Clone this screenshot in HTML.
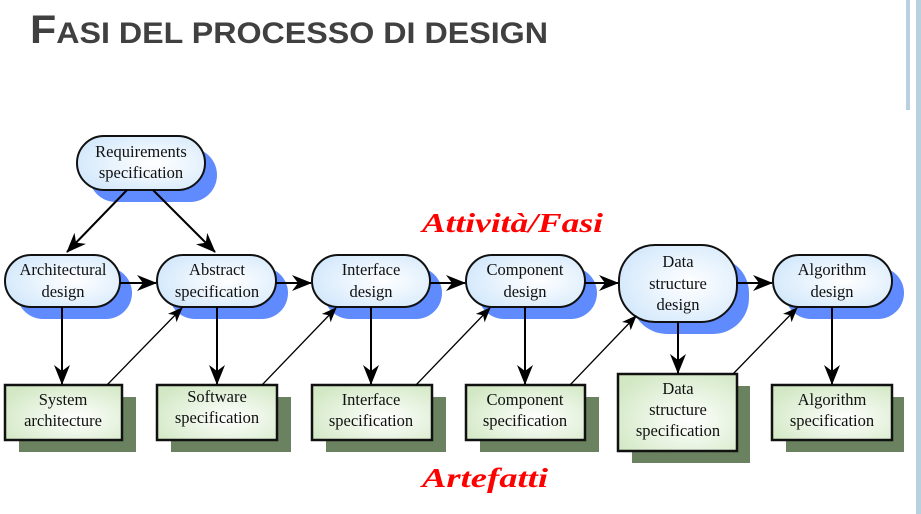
<!DOCTYPE html>
<html><head><meta charset="utf-8"><style>
html,body{margin:0;padding:0;background:#fff;}
svg{display:block;}
.t{font-family:"Liberation Serif",serif;font-size:16.5px;fill:#111;text-anchor:middle;}
</style></head><body>
<svg width="921" height="514" viewBox="0 0 921 514" xmlns="http://www.w3.org/2000/svg">
<defs>
<radialGradient id="eg" cx="0.6" cy="0.5" r="0.7"><stop offset="0" stop-color="#ffffff"/><stop offset="1" stop-color="#cfe6fb"/></radialGradient>
<radialGradient id="bg" cx="0.6" cy="0.6" r="0.7"><stop offset="0" stop-color="#ffffff"/><stop offset="1" stop-color="#d2e8c4"/></radialGradient>
<marker id="a" markerWidth="20" markerHeight="16" refX="19" refY="8" orient="auto" markerUnits="userSpaceOnUse" viewBox="0 0 20 16"><path d="M0,0 L20,8 L0,16 L6,8 Z" fill="#000"/></marker>
<marker id="b" markerWidth="15" markerHeight="12" refX="14" refY="6" orient="auto" markerUnits="userSpaceOnUse" viewBox="0 0 15 12"><path d="M0,0 L15,6 L0,12 L4,6 Z" fill="#000"/></marker>
</defs>
<rect x="906" y="0" width="4" height="110" fill="#b9d1df"/>
<rect x="916" y="0" width="5" height="514" fill="#b9d1df"/>
<text x="30" y="43" font-family="Liberation Sans,sans-serif" font-weight="bold" fill="#404040" textLength="518" lengthAdjust="spacingAndGlyphs"><tspan font-size="40">F</tspan><tspan font-size="30">ASI DEL PROCESSO DI DESIGN</tspan></text>
<text x="422" y="232" font-family="Liberation Serif,serif" font-style="italic" font-weight="bold" font-size="27" fill="#ff0000" textLength="181" lengthAdjust="spacingAndGlyphs">Attività/Fasi</text>
<text x="422" y="487" font-family="Liberation Serif,serif" font-style="italic" font-weight="bold" font-size="27" fill="#ff0000" textLength="126" lengthAdjust="spacingAndGlyphs">Artefatti</text>
<g>
<rect x="89" y="148" width="128" height="54" rx="27" fill="#5f8bff"/>
<rect x="77" y="136" width="128" height="54" rx="27" fill="url(#eg)" stroke="#111" stroke-width="2"/>
</g>
<g fill="#5f8bff">
<rect x="17" y="267" width="115" height="52" rx="26"/>
<rect x="169" y="267" width="119" height="52" rx="26"/>
<rect x="324" y="267" width="118" height="52" rx="26"/>
<rect x="478" y="267" width="119" height="52" rx="26"/>
<rect x="631" y="257" width="118" height="77" rx="36"/>
<rect x="785" y="267" width="119" height="52" rx="26"/>
</g>
<g fill="url(#eg)" stroke="#111" stroke-width="2">
<rect x="5" y="255" width="115" height="52" rx="26"/>
<rect x="157" y="255" width="119" height="52" rx="26"/>
<rect x="312" y="255" width="118" height="52" rx="26"/>
<rect x="466" y="255" width="119" height="52" rx="26"/>
<rect x="619" y="245" width="118" height="77" rx="36"/>
<rect x="773" y="255" width="119" height="52" rx="26"/>
</g>
<g fill="#6b8260">
<rect x="19" y="397" width="117" height="55"/>
<rect x="171" y="397" width="120" height="55"/>
<rect x="326" y="397" width="120" height="55"/>
<rect x="480" y="397" width="119" height="55"/>
<rect x="632" y="386" width="118" height="77"/>
<rect x="786" y="397" width="118" height="55"/>
</g>
<g fill="url(#bg)" stroke="#111" stroke-width="2.5">
<rect x="5" y="385" width="117" height="55"/>
<rect x="157" y="385" width="120" height="55"/>
<rect x="312" y="385" width="120" height="55"/>
<rect x="466" y="385" width="119" height="55"/>
<rect x="618" y="374" width="119" height="77"/>
<rect x="772" y="385" width="120" height="55"/>
</g>
<g stroke="#000" stroke-width="2" marker-end="url(#a)" fill="none">
<line x1="127" y1="190" x2="67" y2="252" />
<line x1="153" y1="190" x2="215" y2="252" />
<line x1="120" y1="283" x2="156" y2="283"/>
<line x1="276" y1="283" x2="311" y2="283"/>
<line x1="430" y1="283" x2="465" y2="283"/>
<line x1="585" y1="283" x2="618" y2="283"/>
<line x1="737" y1="283" x2="772" y2="283"/>
<line x1="62" y1="307" x2="62" y2="384"/>
<line x1="217" y1="307" x2="217" y2="384"/>
<line x1="371" y1="307" x2="371" y2="384"/>
<line x1="525" y1="307" x2="525" y2="384"/>
<line x1="678" y1="322" x2="678" y2="373"/>
<line x1="832" y1="307" x2="832" y2="384"/>
</g>
<g stroke="#000" stroke-width="1.3" marker-end="url(#b)" fill="none">
<line x1="107" y1="385" x2="182" y2="308"/>
<line x1="262" y1="385" x2="336" y2="308"/>
<line x1="416" y1="385" x2="490" y2="308"/>
<line x1="570" y1="385" x2="636" y2="316"/>
<line x1="733" y1="374" x2="797" y2="308"/>
</g>
<g class="t">
<text x="141" y="157">Requirements</text><text x="141" y="178">specification</text>
<text x="63" y="275">Architectural</text><text x="63" y="297">design</text>
<text x="217" y="275">Abstract</text><text x="217" y="297">specification</text>
<text x="371" y="275">Interface</text><text x="371" y="297">design</text>
<text x="525" y="275">Component</text><text x="525" y="297">design</text>
<text x="678" y="267">Data</text><text x="678" y="289">structure</text><text x="678" y="310">design</text>
<text x="832" y="275">Algorithm</text><text x="832" y="297">design</text>
<text x="63" y="405">System</text><text x="63" y="426">architecture</text>
<text x="217" y="402">Software</text><text x="217" y="423">specification</text>
<text x="371" y="405">Interface</text><text x="371" y="426">specification</text>
<text x="525" y="405">Component</text><text x="525" y="426">specification</text>
<text x="678" y="394">Data</text><text x="678" y="415">structure</text><text x="678" y="436">specification</text>
<text x="832" y="405">Algorithm</text><text x="832" y="426">specification</text>
</g>
</svg>
</body></html>
